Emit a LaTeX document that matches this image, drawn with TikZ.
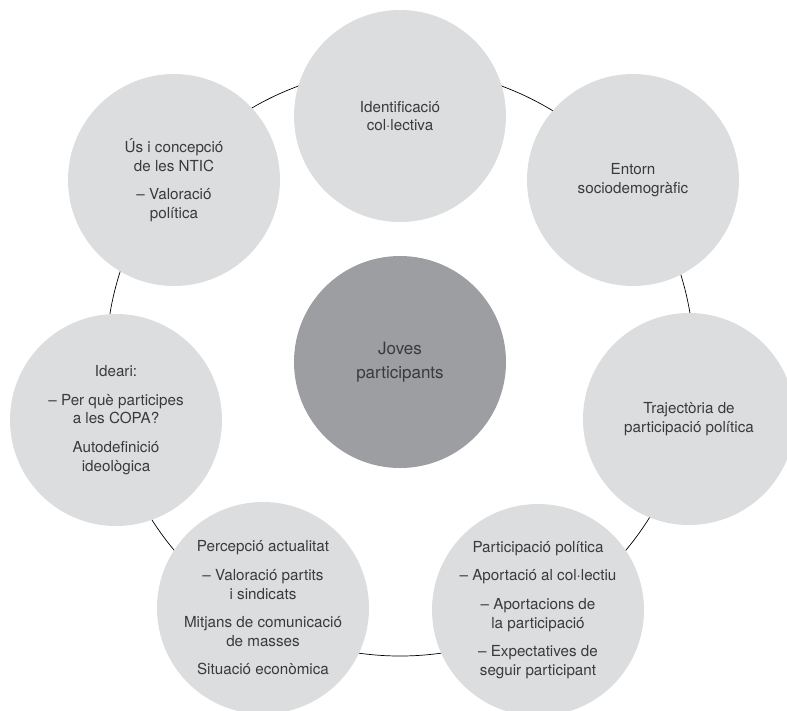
\documentclass[tikz,border=0pt]{standalone}
\usepackage{fontspec}
\setmainfont{TeX Gyre Heros}
\definecolor{bubblegray}{HTML}{DCDDDF}
\definecolor{coregray}{HTML}{9D9EA1}
\definecolor{inkgray}{HTML}{3A3A3A}
\tikzset{
  bubble/.style={circle, fill=bubblegray, minimum size=212pt, inner sep=0pt,
    align=center, text=inkgray, font=\fontsize{15.2}{18.6}\selectfont},
  core/.style={bubble, fill=coregray, font=\fontsize{17}{24}\selectfont}
}
\begin{document}
\begin{tikzpicture}[x=1pt,y=-1pt]
\useasboundingbox (0,0) rectangle (787,710);
\coordinate (mid) at (400,362);
\draw[line width=.7pt] (mid) circle[radius=294pt];

\node[core] (joves) at (mid) {Joves\\participants};

\node[bubble] (ident) at (400,116) {Identificació\\col·lectiva};
\node[bubble] (entorn) at (633,180) {Entorn\\sociodemogràfic};
\node[bubble] (traject) at (689,419) {Trajectòria de\\participació política};
\node[bubble] (particip) at (538,610) {Participació política\\[10pt]– Aportació al col·lectiu\\[10pt]– Aportacions de\\la participació\\[10pt]– Expectatives de\\seguir participant};
\node[bubble] (percep) at (263,608) {Percepció actualitat\\[10pt]– Valoració partits\\i sindicats\\[10pt]Mitjans de comunicació\\de masses\\[10pt]Situació econòmica};
\node[bubble] (ideari) at (116,420) {Ideari:\\[10pt]– Per què participes\\a les COPA?\\[10pt]Autodefinició\\ideològica};
\node[bubble] (ntic) at (174,180) {Ús i concepció\\de les NTIC\\[10pt]– Valoració\\política};
\end{tikzpicture}
\end{document}
